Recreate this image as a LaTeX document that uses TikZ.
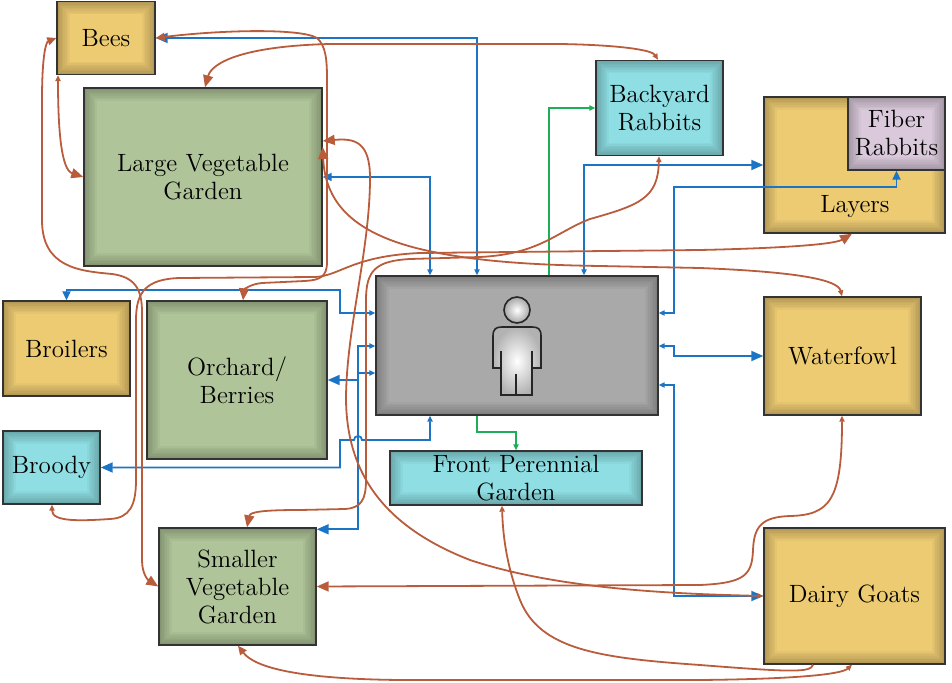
\documentclass[tikz,border=0pt]{standalone}
\usetikzlibrary{arrows.meta}
\definecolor{goldfill}{HTML}{EDCB73}
\definecolor{vegfill}{HTML}{AFC498}
\definecolor{aquafill}{HTML}{8EDEE3}
\definecolor{fiberfill}{HTML}{D9C9DA}
\definecolor{keeperfill}{HTML}{A9A9A9}
\definecolor{flowblue}{HTML}{1C74C4}
\definecolor{feedbrown}{HTML}{B95C3C}
\definecolor{plantgreen}{HTML}{1DAE5A}
\tikzset{
  bigtip/.tip = {Triangle[length=6pt, width=5pt]},
  midtip/.tip = {Triangle[length=4.5pt, width=4pt]},
  smalltip/.tip = {Triangle[length=3pt, width=2.6pt]},
  box/.style = {draw=black!80, line width=0.7pt, align=center, inner sep=1pt,
    font=\fontsize{12.5}{14}\selectfont,
    path picture = {
      \foreach \w in {1,...,8}
        \draw[black, opacity=0.03, line width=1.6*\w pt]
          (path picture bounding box.south west) rectangle (path picture bounding box.north east);
    }},
  gold/.style = {box, fill=goldfill},
  veg/.style = {box, fill=vegfill},
  aqua/.style = {box, fill=aquafill},
  flow/.style = {draw=flowblue, line width=0.9pt},
  feed/.style = {draw=feedbrown, line width=0.9pt},
  plant/.style = {draw=plantgreen, line width=0.9pt},
}
\begin{document}
\begin{tikzpicture}[x=0.5pt, y=-0.5pt]
  \useasboundingbox (0,0) rectangle (952,683);

  \node[gold, minimum width=49pt, minimum height=36.5pt] (bees) at (106,38) {Bees};
  \node[veg, minimum width=119pt, minimum height=89pt] (largeveg) at (203,177) {Large Vegetable\\Garden};
  \node[aqua, minimum width=63.5pt, minimum height=47.5pt] (backyard) at (659.5,108) {Backyard\\Rabbits};
  \node[gold, minimum width=90.5pt, minimum height=68pt] (layers) at (854.5,165) {};
  \node[font=\fontsize{12.5}{14}\selectfont] (layerstext) at (855,207) {Layers};
  \node[box, fill=fiberfill, minimum width=48.5pt, minimum height=36.5pt] (fiber) at (896.5,133.5) {Fiber\\Rabbits};
  \node[gold, minimum width=63.5pt, minimum height=47.5pt] (broilers) at (66.5,348.5) {Broilers};
  \node[veg, minimum width=90pt, minimum height=79pt] (orchard) at (237,380) {Orchard/\\Berries};
  \node[box, fill=keeperfill, minimum width=141pt, minimum height=69.5pt] (keeper) at (517,345.5) {};
  \node[gold, minimum width=78.5pt, minimum height=59pt] (waterfowl) at (842.5,356) {Waterfowl};
  \node[aqua, minimum width=48.5pt, minimum height=36.5pt] (broody) at (51.5,467.5) {Broody};
  \node[aqua, minimum width=126pt, minimum height=27pt] (frontper) at (516,478) {Front Perennial\\Garden};
  \node[veg, minimum width=78.5pt, minimum height=58.5pt] (smallveg) at (237.5,586.5) {Smaller\\Vegetable\\Garden};
  \node[gold, minimum width=90.5pt, minimum height=68pt] (goats) at (854.5,596) {Dairy Goats};

  \shadedraw[inner color=white, outer color=black!30, draw=black!85, line width=0.8pt]
    (501,395) -- (501,368) -- (493,368) -- (493,336) .. controls (493,329) and (496,327) .. (502,327)
    -- (532,327) .. controls (538,327) and (541,329) .. (541,336) -- (541,368) -- (532,368) -- (532,395) -- cycle;
  \draw[black!85, line width=0.8pt] (501,351) -- (501,368) (532,351) -- (532,368) (516,374) -- (516,395);
  \shadedraw[inner color=white, outer color=black!35, draw=black!85, line width=0.8pt] (517,310) circle[radius=6.5pt];

  \draw[flow, bigtip-smalltip] (bees.east) -| (keeper.north -| 477,0);
  \draw[flow, midtip-smalltip] (largeveg.east) -| (keeper.north -| 430,0);
  \draw[flow, bigtip-smalltip] (layers.west) -| (keeper.north -| 584,0);
  \draw[flow, midtip-smalltip] (fiber.south) |- (674,187) |- (keeper.east |- 0,313);
  \draw[flow, bigtip-smalltip] (waterfowl.west) -| (674,346) -- (keeper.east |- 0,346);
  \draw[flow, bigtip-smalltip] (goats.west) -| (674,385) -- (keeper.east |- 0,385);
  \draw[flow, midtip-smalltip] (broilers.north) |- (340,290) |- (keeper.west |- 0,313);
  \draw[flow, bigtip-smalltip] (orchard.east) -| (358,346) -- (keeper.west |- 0,346);
  \draw[flow, bigtip-smalltip] ([yshift=-1pt]smallveg.north east) -| (358,373) -- (keeper.west |- 0,373);
  \draw[flow, bigtip-smalltip] (broody.east) -| (340,440) -- (354,440)
    arc[start angle=180, end angle=0, radius=2pt] -- (430,440) -- (keeper.south -| 430,0);

  \draw[plant, -smalltip] (keeper.north -| 549,0) |- (backyard.west);
  \draw[plant, -smalltip] (keeper.south -| 477,0) |- (516,432) -- (frontper.north);

  \draw[feed, midtip-bigtip] (bees.east) .. controls (220,30) and (300,28) .. (317,38)
    .. controls (326,46) and (327,60) .. (327,80) -- (327,262) .. controls (327,277) and (320,280) .. (305,281)
    -- (262,283) .. controls (250,284) and (244,290) .. (243,0 |- orchard.north);
  \draw[feed, bigtip-smalltip] (205,0 |- largeveg.north) .. controls (212,62) and (245,46) .. (330,44)
    -- (560,44) .. controls (620,45) and (652,50) .. (658,0 |- backyard.north);
  \draw[feed, smalltip-bigtip] (58,0 |- bees.south) .. controls (58,135) and (62,170) .. (largeveg.west);
  \draw[feed, midtip-bigtip] (bees.west) .. controls (46,42) and (42,55) .. (42,100) -- (42,220)
    .. controls (42,268) and (80,271) .. (112,274) .. controls (134,277) and (142,288) .. (142,312)
    -- (142,560) .. controls (142,574) and (148,580) .. (smallveg.west);
  \draw[feed, smalltip-bigtip] (52,0 |- broody.south) .. controls (52,522) and (80,521) .. (110,519)
    .. controls (130,518) and (136,505) .. (136,480) -- (136,320) .. controls (136,292) and (146,279) .. (180,278)
    -- (315,277) .. controls (340,276) and (352,256) .. (420,253) -- (700,250)
    .. controls (790,248) and (835,244) .. (852,0 |- layers.south);
  \draw[feed, bigtip-smalltip] (largeveg.east |- 0,141) .. controls (355,138) and (370,142) .. (370,178)
    .. controls (370,250) and (346,330) .. (346,400) .. controls (347,470) and (380,525) .. (470,560)
    .. controls (560,590) and (680,594) .. (goats.west);
  \draw[feed, bigtip-smalltip] (247,0 |- smallveg.north) .. controls (250,512) and (262,510) .. (300,510)
    -- (345,509) .. controls (361,508) and (366,500) .. (366,480) -- (366,300)
    .. controls (366,270) and (376,261) .. (410,259) -- (480,257) .. controls (540,254) and (556,232) .. (590,219)
    .. controls (640,205) and (658,198) .. (659,0 |- backyard.south);
  \draw[feed, bigtip-smalltip] (largeveg.east |- 0,147) .. controls (325,200) and (350,232) .. (420,249)
    .. controls (470,261) and (530,265) .. (600,266) -- (700,268)
    .. controls (800,272) and (838,280) .. (842,0 |- waterfowl.north);
  \draw[feed, smalltip-bigtip] (842,0 |- waterfowl.south) .. controls (842,500) and (830,515) .. (790,516)
    .. controls (762,517) and (754,526) .. (753,550) .. controls (752,575) and (745,583) .. (700,585)
    -- (smallveg.east);
  \draw[feed, -smalltip] (813,0 |- goats.south) .. controls (811,673) and (790,672) .. (700,665)
    .. controls (600,658) and (540,650) .. (520,600) .. controls (508,570) and (503,540) .. (502,0 |- frontper.south);
  \draw[feed, midtip-smalltip] (238,0 |- smallveg.south) .. controls (255,668) and (300,679) .. (400,680)
    -- (700,680) .. controls (800,679) and (842,674) .. (852,0 |- goats.south);
\end{tikzpicture}
\end{document}
